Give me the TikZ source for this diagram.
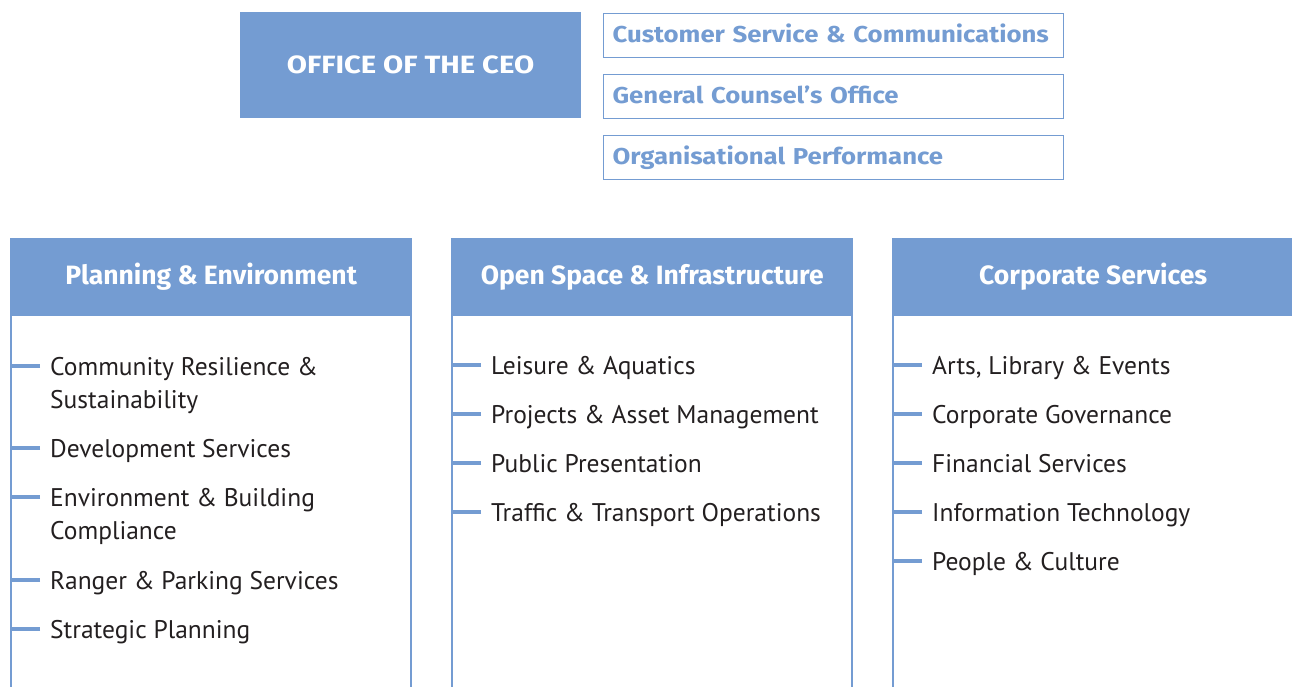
\documentclass[tikz,border=0pt]{standalone}
\usepackage{fontspec}
\setmainfont{PT Sans}
\newfontfamily\hfont{Fira Sans}
\newfontfamily\sidefont{Fira Sans}[FakeStretch=1.12]
\newfontfamily\ceofont{Fira Sans}[FakeStretch=1.17]
\definecolor{orgblue}{RGB}{116,156,210}
\definecolor{ink}{RGB}{35,31,32}
\begin{document}
\begin{tikzpicture}[x=1pt,y=-1pt,
  ceobox/.style={fill=orgblue, text=white, font=\ceofont\bfseries\fontsize{25}{28}\selectfont, minimum width=341pt, minimum height=106pt, inner sep=0pt, text height=18pt, text depth=2pt},
  sidebox/.style={draw=orgblue, line width=1.2pt, text=orgblue, font=\sidefont\bfseries\fontsize{23}{27}\selectfont, minimum height=44pt, anchor=north west, inner xsep=9pt, inner ysep=0pt, text width=442pt, align=left, text height=17pt, text depth=3pt},
  head/.style={fill=orgblue, text=white, font=\hfont\bfseries\fontsize{26.5}{30}\selectfont, minimum width=402pt, minimum height=76pt, anchor=north west, inner sep=0pt, text height=19pt, text depth=2pt},
  colline/.style={draw=orgblue, line width=2pt},
  tick/.style={draw=orgblue, line width=4pt},
  item/.style={text=ink, font=\fontsize{25.5}{33}\selectfont, anchor=base west, inner sep=0pt, align=left}
]
\useasboundingbox (0,0) rectangle (1292,686);
\clip (0,0) rectangle (1292,686);

% top
\node[ceobox] (ceo) at (410.5,65) {OFFICE OF THE CEO};
\node[sidebox] (cs) at (603,13) {Customer Service \& Communications};
\node[sidebox] (gc) at (603,74) {General Counsel’s Office};
\node[sidebox] (op) at (603,135) {Organisational Performance};

% column bodies
\draw[colline] (11,700) -- (11,315) -- (411,315) -- (411,700);
\draw[colline] (452,700) -- (452,315) -- (852,315) -- (852,700);
\draw[colline] (893,700) -- (893,315) -- (1300,315);

% headers
\node[head] (pe) at (10,238) {Planning \& Environment};
\node[head] (os) at (451,238) {Open Space \& Infrastructure};
\node[head] (cp) at (892,238) {Corporate Services};

% column 1
\node[item] (p1) at (50,408) {Community Resilience \&\\Sustainability};
\node[item] (p2) at (50,457) {Development Services};
\node[item] (p3) at (50,539) {Environment \& Building\\Compliance};
\node[item] (p4) at (50,589) {Ranger \& Parking Services};
\node[item] (p5) at (50,638) {Strategic Planning};
\foreach \y [count=\i] in {366,448,497,580,629}{
  \coordinate (pd\i) at (40,\y);
  \draw[tick] (pd\i) -- (12,\y);
}

% column 2
\node[item] (o1) at (491,374) {Leisure \& Aquatics};
\node[item] (o2) at (491,423) {Projects \& Asset Management};
\node[item] (o3) at (491,472) {Public Presentation};
\node[item] (o4) at (491,521) {Traffic \& Transport Operations};
\foreach \y [count=\i] in {365,414,463,512}{
  \coordinate (od\i) at (481,\y);
  \draw[tick] (od\i) -- (453,\y);
}

% column 3
\node[item] (c1) at (932,374) {Arts, Library \& Events};
\node[item] (c2) at (932,423) {Corporate Governance};
\node[item] (c3) at (932,472) {Financial Services};
\node[item] (c4) at (932,521) {Information Technology};
\node[item] (c5) at (932,570) {People \& Culture};
\foreach \y [count=\i] in {365,414,463,512,561}{
  \coordinate (cd\i) at (922,\y);
  \draw[tick] (cd\i) -- (894,\y);
}
\end{tikzpicture}
\end{document}
